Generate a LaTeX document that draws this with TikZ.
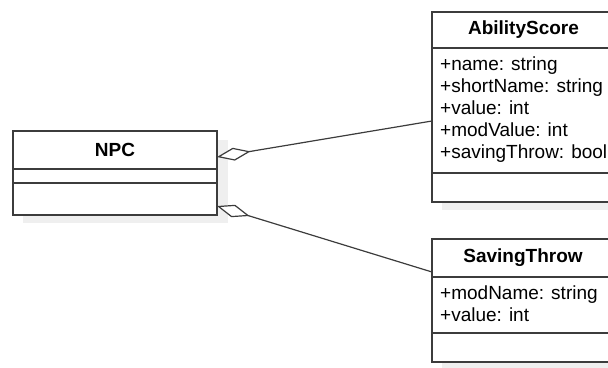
\documentclass[tikz,border=0pt]{standalone}
\usepackage{fontspec}
\setmainfont{Liberation Sans}
\usetikzlibrary{arrows.meta}
\definecolor{ln}{HTML}{3C3C3C}
\definecolor{shd}{HTML}{EFEFEF}
\begin{document}
\begin{tikzpicture}[x=1pt,y=-1pt,
  box/.style={draw=ln, line width=1.4pt, fill=white, anchor=north west, inner sep=0pt, outer sep=0pt},
  title/.style={font=\fontsize{19}{22}\selectfont\bfseries, text=black, inner sep=0pt},
  attr/.style={font=\fontsize{19}{22}\selectfont, anchor=base west, inner sep=0pt, text=black},
  sep/.style={draw=ln, line width=1.4pt},
  aggr/.style={draw=ln, line width=1.2pt, -{Diamond[open, length=34pt, width=13pt, fill=white]}}
]
\useasboundingbox (0,0) rectangle (608,367);
\clip (0,0) rectangle (608,367);
% shadows
\fill[shd] (23,140) rectangle (228,223);
\fill[shd] (442,20) rectangle (625,210);
\fill[shd] (442,247) rectangle (625,370);
% NPC
\node[box, minimum width=204pt, minimum height=84pt] (npc) at (13,131) {};
\node[title] (npct) at (115,150) {NPC};
\draw[sep] (13,169) -- (217,169);
\draw[sep] (13,183) -- (217,183);
% AbilityScore
\node[box, minimum width=183pt, minimum height=190pt] (ab) at (432,12) {};
\node[title] (abt) at (523.5,30) {AbilityScore};
\draw[sep] (432,48) -- (615,48);
\draw[sep] (432,173) -- (615,173);
\node[attr] (ab1) at (440,70) {+name: string};
\node[attr] (ab2) at (440,92) {+shortName: string};
\node[attr] (ab3) at (440,114) {+value: int};
\node[attr] (ab4) at (440,136) {+modValue: int};
\node[attr] (ab5) at (440,158) {+savingThrow: bool};
% SavingThrow
\node[box, minimum width=182pt, minimum height=123pt] (st) at (432,239) {};
\node[title] (stt) at (523,258) {SavingThrow};
\draw[sep] (432,277) -- (614,277);
\draw[sep] (432,333) -- (614,333);
\node[attr] (st1) at (440,299) {+modName: string};
\node[attr] (st2) at (440,321) {+value: int};
% connectors
\coordinate (n1) at (217,157);
\coordinate (a1) at (432,121);
\coordinate (n2) at (217,206);
\coordinate (s1) at (432,272);
\draw[aggr] (a1) -- (n1);
\draw[aggr] (s1) -- (n2);
\end{tikzpicture}
\end{document}
